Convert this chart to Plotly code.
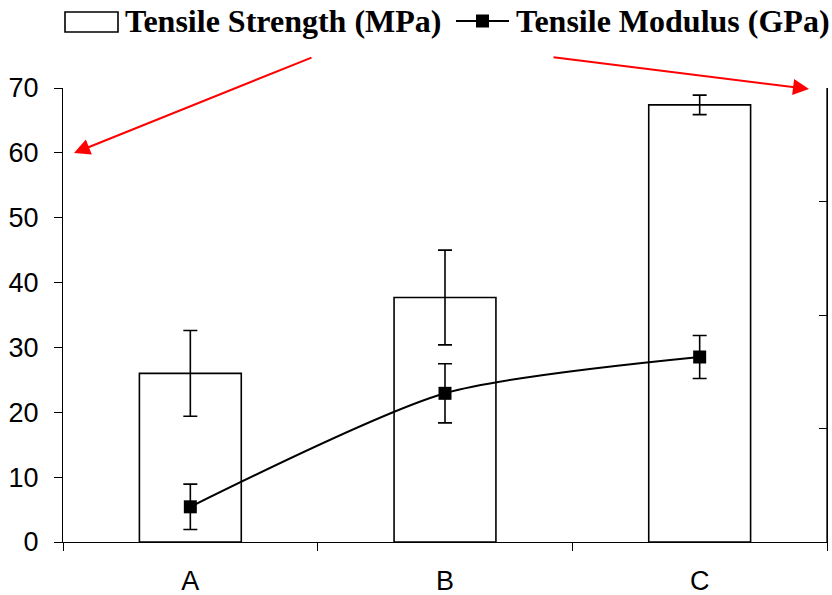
import plotly.graph_objects as go

# ---- data ----
categories = ["A", "B", "C"]
strength = [26.0, 37.7, 67.4]          # MPa (left axis)
strength_err = [6.6, 7.3, 1.5]
modulus = [0.31, 1.31, 1.63]           # GPa (right axis)
modulus_err = [0.20, 0.26, 0.19]
y_ticks = [0, 10, 20, 30, 40, 50, 60, 70]

W, H = 832, 595
L, R, T, B = 63, 5, 88, 53
PW, PH = W - L - R, H - T - B


def px(x):
    return (x - L) / PW


def py(y):
    return (H - B - y) / PH


fig = go.Figure()
fig.add_trace(go.Bar(
    x=categories, y=strength, width=0.4,
    marker=dict(color="white", line=dict(color="black", width=1.6)),
    error_y=dict(type="data", array=strength_err, color="black", thickness=1.6, width=7),
    name="Tensile Strength (MPa)", showlegend=False,
))
fig.add_trace(go.Scatter(
    x=categories, y=modulus, yaxis="y2", mode="lines+markers",
    line=dict(color="black", width=2, shape="spline", smoothing=0.7),
    marker=dict(symbol="square", size=13, color="black"),
    error_y=dict(type="data", array=modulus_err, color="black", thickness=1.6, width=7),
    name="Tensile Modulus (GPa)", showlegend=False,
))

tick_font = dict(family="Liberation Sans, Arial", size=27, color="black")
leg_font = dict(family="Liberation Serif, Times New Roman", size=32, color="black")

shapes = [
    # right (secondary) axis spine
    dict(type="line", xref="paper", yref="paper", x0=1, x1=1, y0=0, y1=1,
         line=dict(color="black", width=1.3), layer="above"),
    # legend box for bars
    dict(type="rect", xref="paper", yref="paper", x0=px(65), x1=px(118), y0=py(32), y1=py(12),
         line=dict(color="black", width=1.6), fillcolor="white"),
    # legend line + marker
    dict(type="line", xref="paper", yref="paper", x0=px(456), x1=px(509), y0=py(21), y1=py(21),
         line=dict(color="black", width=1.8)),
    dict(type="rect", xref="paper", yref="paper", x0=px(476), x1=px(489), y0=py(27.5), y1=py(14.5),
         line=dict(color="black", width=0), fillcolor="black"),
]

annotations = [
    dict(text="<b>Tensile Strength (MPa)</b>", xref="paper", yref="paper", x=px(123), y=py(21),
         xanchor="left", yanchor="middle", showarrow=False, font=leg_font),
    dict(text="<b>Tensile Modulus (GPa)</b>", xref="paper", yref="paper", x=px(514), y=py(21),
         xanchor="left", yanchor="middle", showarrow=False, font=leg_font),
    dict(text="", xref="paper", yref="paper", x=px(74), y=py(153), ax=313 - 74, ay=57 - 153,
         showarrow=True, arrowhead=2, arrowsize=1.6, arrowwidth=2, arrowcolor="red", standoff=0),
    dict(text="", xref="paper", yref="paper", x=px(809), y=py(89), ax=552 - 809, ay=57 - 89,
         showarrow=True, arrowhead=2, arrowsize=1.6, arrowwidth=2, arrowcolor="red", standoff=0),
]

fig.update_layout(
    width=W, height=H,
    margin=dict(l=L, r=R, t=T, b=B, autoexpand=False),
    paper_bgcolor="white", plot_bgcolor="white",
    showlegend=False,
    xaxis=dict(type="category", tickson="boundaries", ticks="outside", ticklen=8, tickwidth=1.2,
               tickcolor="black", showline=True, linecolor="black", linewidth=1.2,
               showgrid=False, tickfont=tick_font, ticklabelstandoff=14, automargin=False),
    yaxis=dict(range=[0, 70], tickvals=y_ticks, ticks="outside", ticklen=8, tickwidth=1.2,
               tickcolor="black", showline=True, linecolor="black", linewidth=1.3,
               showgrid=False, zeroline=False, tickfont=tick_font, ticklabelstandoff=10,
               automargin=False),
    yaxis2=dict(range=[0, 4], dtick=1, overlaying="y", side="right", ticks="inside", ticklen=8,
                tickwidth=1.2, tickcolor="black", showline=True, linecolor="black", linewidth=1.3,
                showgrid=False, zeroline=False, showticklabels=False, automargin=False),
    shapes=shapes,
    annotations=annotations,
)

fig.write_html("out.html")
